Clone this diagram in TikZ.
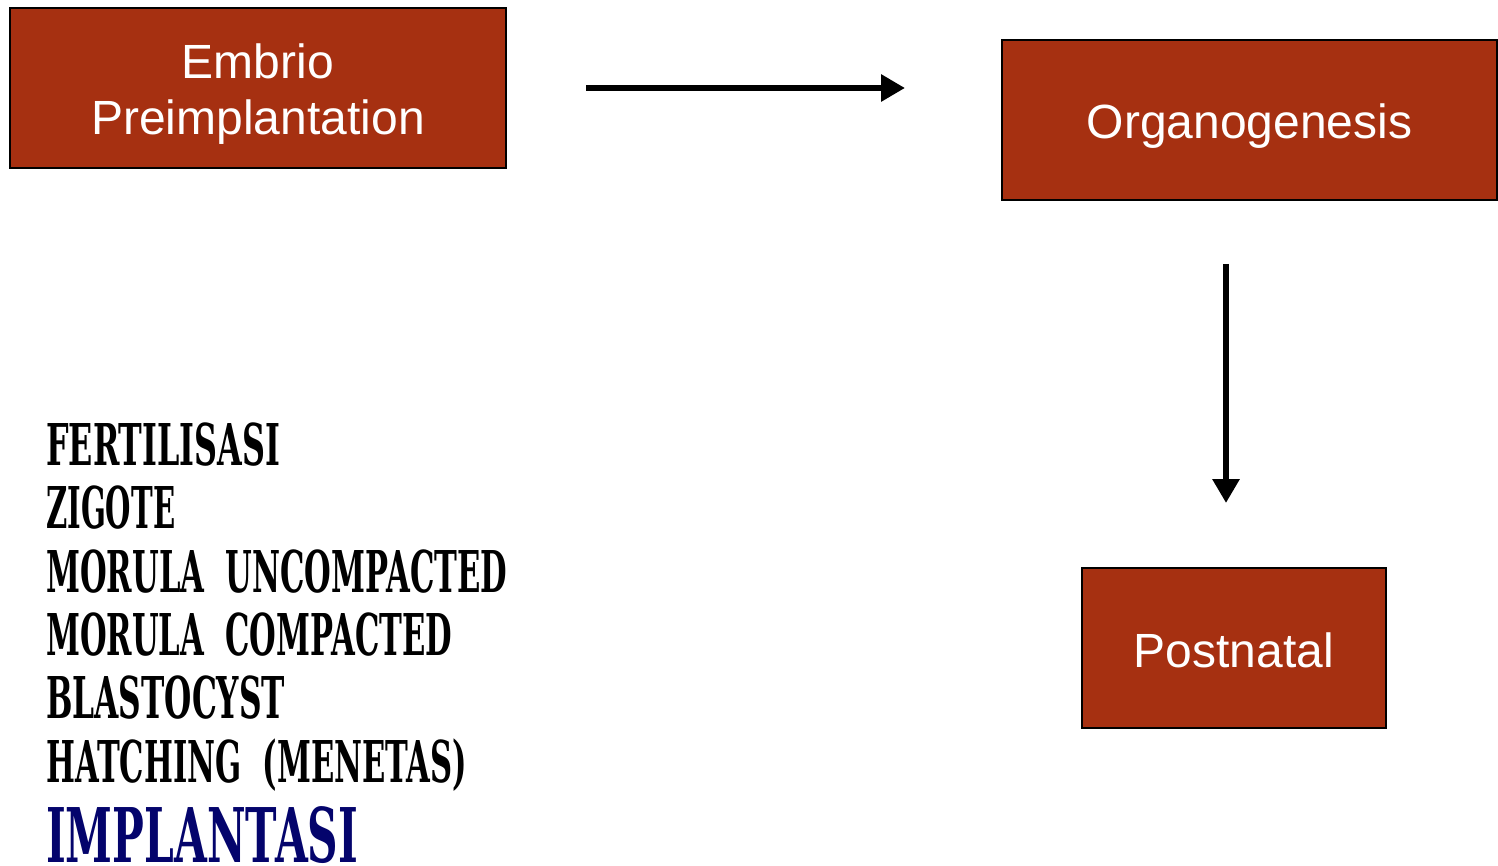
\documentclass[tikz,border=0pt]{standalone}
\usepackage{fontspec}
\setmainfont{Liberation Sans}
\newfontfamily\listfont{DejaVu Serif}
\usetikzlibrary{arrows.meta}
\definecolor{boxred}{RGB}{166,48,17}
\definecolor{navy}{RGB}{4,4,108}
\newcommand{\fitline}[2]{\resizebox{#1}{\height}{#2}}
\tikzset{
  box/.style={draw=black, line width=1.6pt, fill=boxred, text=white,
    font=\fontsize{48}{56}\selectfont, inner sep=0pt, text height=48pt, text depth=10pt},
  arr/.style={line width=6.5pt, -{Triangle[length=24pt,width=26pt]}},
  item/.style={anchor=base west, inner sep=0pt, font=\listfont\bfseries\fontsize{57.6}{60}\selectfont},
}
\begin{document}
\begin{tikzpicture}[x=1pt,y=-1pt]
\useasboundingbox (0,0) rectangle (1498,866);
\node[box, minimum width=496pt, minimum height=160pt, text height=40pt, text depth=58pt] (b1) at (258,88)
  {\parbox[t]{480pt}{\centering Embrio\\Preimplantation}};
\node[box, minimum width=495pt, minimum height=160pt] (b2) at (1249.5,120) {Organogenesis};
\node[box, minimum width=304pt, minimum height=160pt] (b3) at (1234,648) {Postnatal};
\coordinate (a1s) at (586,88);
\coordinate (a1e) at (905,88);
\coordinate (a2s) at (1226,264);
\coordinate (a2e) at (1226,503);
\draw[arr] (a1s) -- (a1e);
\draw[arr] (a2s) -- (a2e);
\node[item] (l1) at (46,465) {\fitline{234pt}{FERTILISASI}};
\node[item] (l2) at (46,528) {\fitline{129pt}{ZIGOTE}};
\node[item] (l3) at (46,592) {\fitline{461pt}{MORULA\ \ UNCOMPACTED}};
\node[item] (l4) at (46,655) {\fitline{406pt}{MORULA\ \ COMPACTED}};
\node[item] (l5) at (46,718) {\fitline{239pt}{BLASTOCYST}};
\node[item] (l6) at (46,782) {\fitline{421pt}{HATCHING\ \ (MENETAS)}};
\node[item, text=navy, font=\listfont\bfseries\fontsize{75.4}{78}\selectfont] (l7) at (46,862) {\fitline{312pt}{IMPLANTASI}};
\end{tikzpicture}
\end{document}
